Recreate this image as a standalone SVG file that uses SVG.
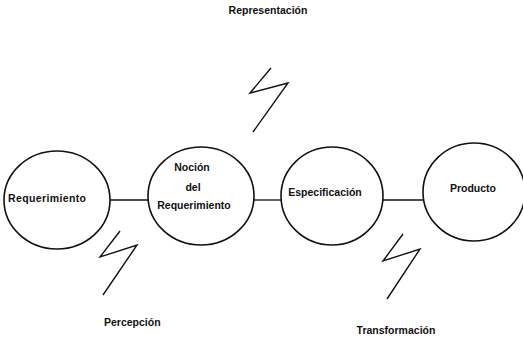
<svg xmlns="http://www.w3.org/2000/svg" width="523" height="338" viewBox="0 0 523 338">
<style>
.node{fill:none;stroke:#111;stroke-width:1.6}
.conn{stroke:#111;stroke-width:1.3;fill:none}
.bolt{stroke:#111;stroke-width:1.4;fill:none;stroke-linejoin:miter}
text{font-family:"Liberation Sans",Arial,sans-serif;font-size:10.5px;font-weight:bold;fill:#111}
</style>
<rect width="523" height="338" fill="#fff"/>
<g id="connectors">
<line class="conn" x1="110" y1="200" x2="148" y2="200"/>
<line class="conn" x1="254" y1="200" x2="282" y2="200"/>
<line class="conn" x1="383" y1="200" x2="423" y2="200"/>
</g>
<g id="node-requerimiento">
<ellipse class="node" cx="57" cy="200" rx="53" ry="49"/>
<text x="8" y="202" textLength="78">Requerimiento</text>
</g>
<g id="node-nocion">
<ellipse class="node" cx="201" cy="196" rx="53" ry="49"/>
<text x="192" y="171" text-anchor="middle">Noción</text>
<text x="193" y="191" text-anchor="middle">del</text>
<text x="194" y="209" text-anchor="middle">Requerimiento</text>
</g>
<g id="node-especificacion">
<ellipse class="node" cx="332" cy="196" rx="51" ry="49"/>
<text x="325" y="196" text-anchor="middle">Especificación</text>
</g>
<g id="node-producto">
<ellipse class="node" cx="474" cy="192" rx="51" ry="49"/>
<text x="473" y="192" text-anchor="middle">Producto</text>
</g>
<g id="bolts">
<polyline class="bolt" points="271,68 250,93 288,83 253,132"/>
<polyline class="bolt" points="120,231 100,257 137,245 103,295"/>
<polyline class="bolt" points="403,234 383,261 420,249 387,299"/>
</g>
<g id="labels">
<text x="268" y="14" text-anchor="middle">Representación</text>
<text x="104" y="326">Percepción</text>
<text x="396" y="334" text-anchor="middle">Transformación</text>
</g>
</svg>
